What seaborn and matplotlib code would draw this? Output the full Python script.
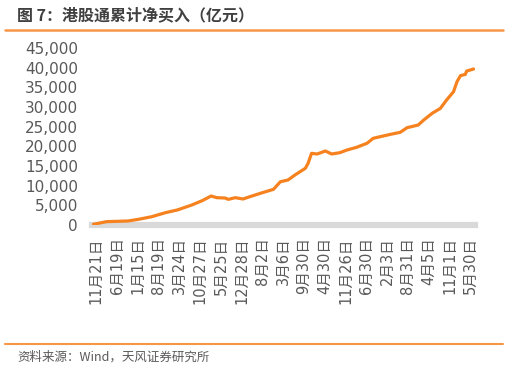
import pandas as pd
import matplotlib
matplotlib.use("Agg")
import matplotlib.pyplot as plt
from matplotlib.lines import Line2D
from matplotlib.ticker import FuncFormatter
import seaborn as sns

# 数据：港股通累计净买入（亿元），按周序号读取
semanas = [-4, 15, 46, 61, 80, 100, 117, 138, 153, 166, 174, 186, 191, 201,
           212, 222, 237, 256, 266, 277, 287, 302, 306, 311, 319, 331, 340,
           352, 362, 376, 391, 400, 410, 425, 439, 449, 465, 473, 485, 497,
           506, 516, 521, 526, 533, 535, 540, 545]
valores = [180, 850, 1020, 1440, 2100, 3130, 3810, 5080, 6180, 7370, 6950,
           6860, 6520, 6950, 6610, 7200, 8050, 9070, 11000, 11440, 12710,
           14410, 15680, 18220, 18050, 18810, 18050, 18390, 19060, 19750,
           20770, 22040, 22450, 23050, 23560, 24740, 25420, 26690, 28380,
           29650, 31780, 33890, 36430, 37960, 38300, 39150, 39400, 39660]

etiquetas_x = ["11月21日", "6月19日", "1月15日", "8月19日", "3月24日",
               "10月27日", "5月25日", "12月28日", "8月2日", "3月6日",
               "9月30日", "4月30日", "11月26日", "6月30日", "2月3日",
               "8月31日", "4月5日", "11月1日", "5月30日"]
posiciones_x = [i * 30 for i in range(len(etiquetas_x))]

titulo = "图 7：港股通累计净买入（亿元）"
fuente = "资料来源：Wind，天风证券研究所"

df = pd.DataFrame({"semana": semanas, "valor": valores})

sns.set_theme(style="white")
plt.rcParams["font.family"] = ["DejaVu Sans", "Noto Sans CJK SC"]

naranja = "#F5821F"
gris_texto = "#595959"

fig = plt.figure(figsize=(5.08, 3.72), dpi=100)
ax = fig.add_axes([92 / 508, 1 - 225 / 372, (475 - 92) / 508, (225 - 48) / 372])

sns.lineplot(data=df, x="semana", y="valor", ax=ax, color=naranja,
             linewidth=2.3, zorder=3)

ax.set_xlim(-6, 547)
ax.set_ylim(0, 45000)
ax.set_yticks(range(0, 45001, 5000))
ax.yaxis.set_major_formatter(FuncFormatter(lambda v, p: f"{v:,.0f}"))
ax.set_xticks(posiciones_x)
ax.set_xticklabels(etiquetas_x, rotation=90, fontsize=10.5, color=gris_texto,
                   family=["DejaVu Sans", "Noto Sans CJK SC"])
ax.tick_params(axis="y", labelsize=11, colors=gris_texto, length=0, pad=10)
ax.tick_params(axis="x", length=0, pad=9)
ax.set_xlabel("")
ax.set_ylabel("")

for lado in ["top", "right", "left"]:
    ax.spines[lado].set_visible(False)
ax.spines["bottom"].set_color("#D9D9D9")
ax.spines["bottom"].set_linewidth(4.5)
ax.grid(False)

# Título, líneas y fuente
fig.text(17 / 508, 1 - 15 / 372, titulo, fontsize=11.5, color="#404040",
         va="center", ha="left", fontweight="bold",
         family=["Noto Sans CJK SC", "DejaVu Sans"])
fig.add_artist(Line2D([5 / 508, 503 / 508], [1 - 30 / 372] * 2,
                      color="#F79646", linewidth=1.8))
fig.add_artist(Line2D([5 / 508, 503 / 508], [1 - 344 / 372] * 2,
                      color="#F79646", linewidth=1.5))
fig.text(17 / 508, 1 - 357 / 372, fuente, fontsize=9, color=gris_texto,
         va="center", ha="left", family=["Noto Sans CJK SC", "DejaVu Sans"])

fig.savefig("out.png", dpi=100)
